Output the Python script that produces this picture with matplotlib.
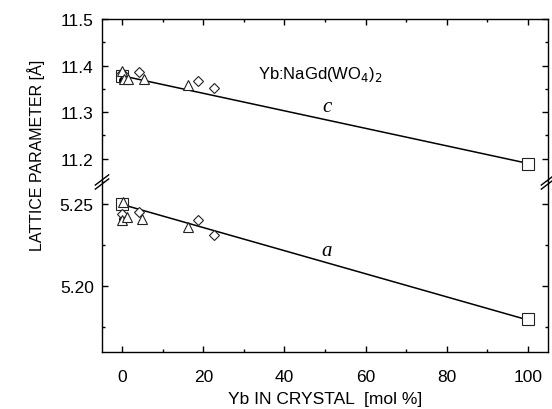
import numpy as np
import matplotlib.pyplot as plt
from matplotlib.ticker import MultipleLocator

plt.rcParams['font.family'] = ['Liberation Sans', 'DejaVu Sans']

# lattice parameter c (upper panel)
c_sq_x = [0, 100]
c_sq = [11.378, 11.189]
c_tri_x = [0, 0.5, 1.5, 5.3, 16.1]
c_tri = [11.389, 11.372, 11.371, 11.372, 11.359]
c_dia_x = [0, 4.2, 18.6, 22.7]
c_dia = [11.383, 11.386, 11.366, 11.352]
c_fill_x = [0]
c_fill = [11.370]
c_fit_x = [0, 100]
c_fit = [11.378, 11.190]

# lattice parameter a (lower panel)
a_sq_x = [0, 100]
a_sq = [5.250, 5.180]
a_tri_x = [0.3, 0, 1.2, 4.9, 16.1]
a_tri = [5.251, 5.240, 5.242, 5.241, 5.236]
a_dia_x = [0, 4.0, 18.6, 22.5]
a_dia = [5.244, 5.245, 5.240, 5.231]
a_fill_x = [0]
a_fill = [5.241]
a_fit_x = [0, 100]
a_fit = [5.2497, 5.1795]

fig = plt.figure(figsize=(5.52, 4.10), dpi=100)
left, width = 0.1848, 0.808
ax_hi = fig.add_axes([left, 0.5537, width, 0.3975])
ax_lo = fig.add_axes([left, 0.139, width, 0.4147])

mk = dict(linestyle='none', mfc='white', mec='#222222', mew=0.8)

def draw(ax, sx, sy, tx, ty, dx, dy, fx, fy, lx, ly):
    ax.plot(lx, ly, color='black', lw=1.1, zorder=2)
    ax.plot(sx, sy, marker='s', ms=9, zorder=3, **mk)
    ax.plot(fx, fy, marker='o', ms=4, linestyle='none', color='black', zorder=3)
    ax.plot(dx, dy, marker='D', ms=5, zorder=4, **mk)
    ax.plot(tx, ty, marker='^', ms=7, zorder=5, **mk)

draw(ax_hi, c_sq_x, c_sq, c_tri_x, c_tri, c_dia_x, c_dia, c_fill_x, c_fill, c_fit_x, c_fit)
draw(ax_lo, a_sq_x, a_sq, a_tri_x, a_tri, a_dia_x, a_dia, a_fill_x, a_fill, a_fit_x, a_fit)

ax_hi.set_ylim(11.15, 11.5)
ax_lo.set_ylim(5.16, 5.2634)
for ax in (ax_hi, ax_lo):
    ax.set_xlim(-5, 105)
    ax.xaxis.set_major_locator(MultipleLocator(20))
    ax.xaxis.set_minor_locator(MultipleLocator(10))
    ax.tick_params(which='both', direction='in', top=True, right=True,
                   labelsize=12.5, width=1.0, pad=6)
    ax.tick_params(axis='x', pad=12)
    ax.tick_params(which='major', length=4)
    ax.tick_params(which='minor', length=2.5)
    for s in ax.spines.values():
        s.set_linewidth(1.0)

ax_hi.yaxis.set_major_locator(MultipleLocator(0.1))
ax_hi.yaxis.set_minor_locator(MultipleLocator(0.05))
ax_hi.yaxis.set_major_formatter(plt.FormatStrFormatter('%.1f'))
ax_lo.yaxis.set_major_locator(MultipleLocator(0.05))
ax_lo.yaxis.set_minor_locator(MultipleLocator(0.025))
ax_lo.yaxis.set_major_formatter(plt.FormatStrFormatter('%.2f'))

ax_hi.spines['bottom'].set_visible(False)
ax_lo.spines['top'].set_visible(False)
ax_hi.tick_params(which='both', bottom=False, labelbottom=False)
ax_lo.tick_params(which='both', top=False)

# break marks on both side spines
for xb in (0.0, 1.0):
    for off in (-0.012, 0.012):
        ax_lo.plot([xb - 0.015, xb + 0.015], [1.0 + off - 0.03, 1.0 + off + 0.03],
                   transform=ax_lo.transAxes, color='black', lw=1.0, clip_on=False)

ax_hi.text(33.5, 11.382, 'Yb:NaGd(WO$_4$)$_2$', fontsize=12, va='center')
ax_hi.text(50.6, 11.313, 'c', fontsize=15, style='italic', family='Liberation Serif',
           ha='center', va='center')
ax_lo.text(50.4, 5.2215, 'a', fontsize=15, style='italic', family='Liberation Serif',
           ha='center', va='center')

ax_lo.set_xlabel('Yb IN CRYSTAL  [mol %]', fontsize=12.5, labelpad=5)
fig.text(0.066, 0.62, 'LATTICE PARAMETER [Å]', rotation=90, fontsize=11.5,
         ha='center', va='center')

fig.savefig('out.png', dpi=100)
